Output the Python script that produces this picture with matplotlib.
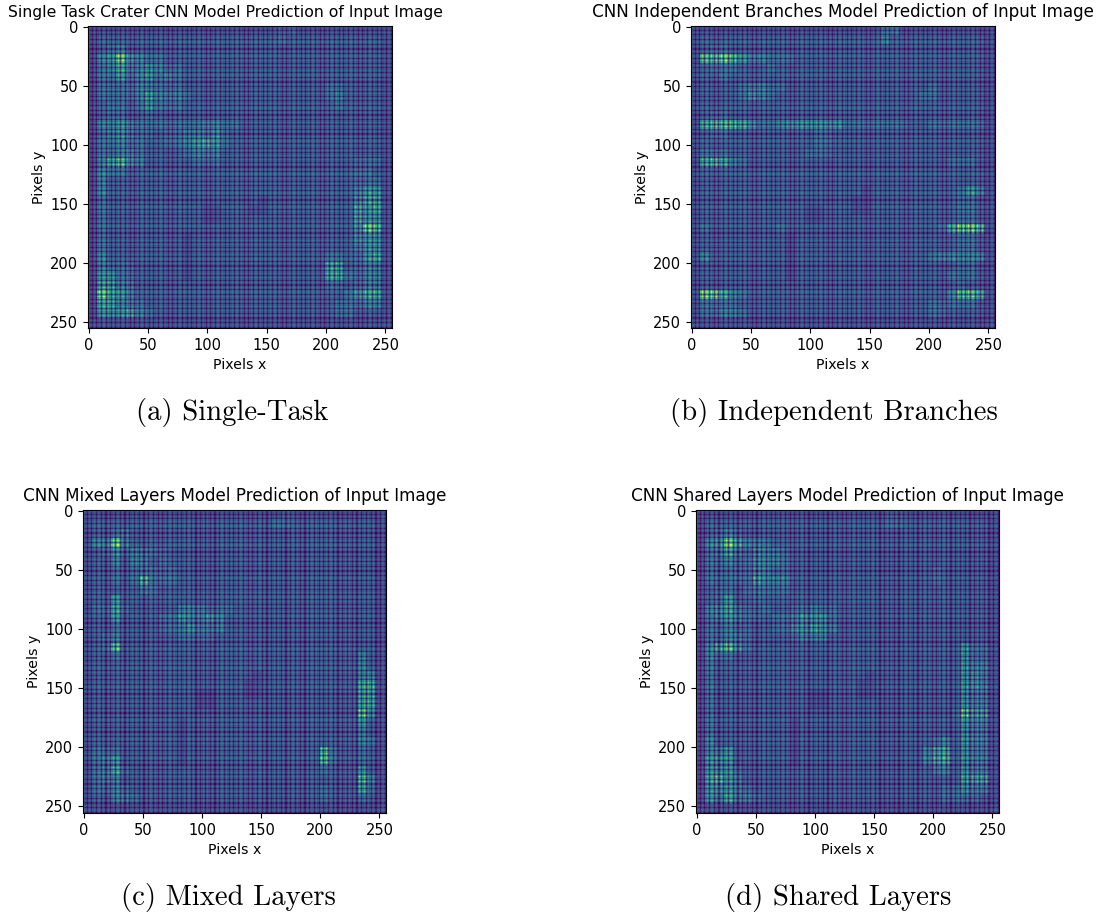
import numpy as np
import matplotlib.pyplot as plt

# brightness, one digit per 8x8 pixel cell
single_task = """
2222 2222 2222 2222 2222 3322 2222 2222
2333 3333 3333 3333 3333 4333 3333 3332
2345 3333 3333 3333 3333 3333 3333 3332
2569 6544 3333 3333 3333 3333 3333 3332
2457 5565 4433 3333 3333 3333 3333 3332
2446 4564 5433 3333 3333 3333 3333 3332
2444 4554 4433 3333 3333 3333 3443 3332
2444 4575 5543 3333 3333 3333 3453 3332
2344 3464 4433 3333 3333 3333 3343 3332
2344 3343 3333 3333 3333 3333 3333 3332
2556 5444 4444 5544 3333 3333 3333 3332
2456 5443 4455 5643 3333 3333 3333 3332
2445 4433 4456 7643 3333 3333 3333 3332
2445 5433 3345 5533 3333 3333 3333 3332
2578 6533 3334 4433 3333 3333 3333 4442
2544 3333 3333 3333 3333 3333 3333 4432
2533 3333 3333 3333 3333 3333 3333 4442
2533 3333 3333 3333 3333 3333 3333 5662
2433 3333 3333 3333 3323 3333 3333 6772
2433 3333 3333 2233 3223 3333 3333 7672
2433 3333 3333 2233 3333 3333 3333 7662
2433 3333 3333 3333 3333 3333 3333 6982
2433 3333 3323 3333 3333 3333 3333 6662
2433 3333 3323 3333 3333 3333 3333 5662
2533 3333 3323 3333 3333 3333 3443 4672
2544 4333 3323 3333 3333 3333 3773 4552
2664 4333 3323 3333 3333 3333 3774 4552
2775 5333 3333 3333 3333 3333 3443 4552
2976 5333 3333 3333 3333 3333 3334 6772
2775 5433 3333 3333 3333 3333 3344 4552
2666 7543 3333 3333 3333 3333 3344 3332
2222 2222 2222 2222 2222 2222 2222 2222
"""

independent = """
2222 2222 2222 2222 2222 4422 2222 2222
2333 3333 3333 3333 3333 5333 3333 3332
2344 3333 3333 3333 3333 3333 3333 3332
2889 8655 4443 3333 3333 3333 3333 3332
2344 4333 4333 3333 3333 3333 3333 3332
2334 3333 3333 3333 3333 3333 3333 3332
2333 3455 4433 3333 3333 3333 3433 3332
2333 3465 4333 3333 3333 3333 4433 3332
2333 3333 3333 3333 3333 3333 3333 3332
2344 3333 3333 3333 3333 3333 3333 3332
2788 8764 4566 6666 4444 4443 3444 4442
2344 3333 3333 3443 3333 3333 3333 3332
2333 3333 3333 3443 3333 3333 3333 3332
2444 3333 3333 4443 3333 3333 3333 3332
2787 5433 3333 3333 3333 3333 3334 4432
2333 3333 3333 3333 3333 3333 3333 3332
2333 3333 3333 3333 3333 3333 3333 3332
2333 3333 3333 3333 3323 3333 3333 4652
2333 3333 3333 3333 3223 3333 3333 4432
2333 3333 3333 2233 3223 3333 3333 4432
2333 3333 3333 2233 3333 3333 3333 4432
2433 3333 3433 3333 3333 3333 3347 9982
2333 3333 3323 3333 3333 3333 3333 4432
2333 3333 3323 3333 3333 3333 3333 4432
2533 3333 3323 3333 3333 3333 3455 5552
2333 3333 3323 3333 3333 3333 3333 4432
2333 3333 3323 3333 3333 3333 3334 4432
2333 3333 3333 3333 3333 3333 3333 4332
2997 5433 3333 3333 3333 3333 3335 8872
2444 4333 3333 3333 3333 3333 3444 4432
2445 5433 3333 3333 3333 3333 3443 3332
2222 2222 2222 2222 2222 2222 2222 2222
"""

mixed = """
2222 2222 2222 2222 2222 2322 2222 2222
2333 3333 3333 3333 3333 4433 3333 3332
2334 5333 3333 3333 3333 3333 3333 3332
2559 5333 3333 3333 3333 3333 3333 3332
2346 4554 4333 3333 3333 3333 3333 3332
2335 3553 4333 3333 3333 3333 3333 3332
2334 3454 4433 3333 3333 3333 3333 3332
2334 3484 4433 3333 3333 3333 3333 3332
2333 3354 3333 3333 3333 3333 3333 3332
2336 3333 3333 3333 3333 3333 3333 3332
2447 4333 3355 5444 3333 3333 3333 3332
2336 3333 4465 5653 3333 3333 3333 3332
2334 3333 4456 5553 3333 3333 3333 3332
2345 3333 3344 4433 3333 3333 3333 3332
2348 3333 3333 3333 3333 3333 3333 3332
2334 3333 3333 3333 3333 3333 3333 3532
2333 3333 3333 3333 3333 3333 3333 3532
2333 3333 3333 3333 3323 3333 3333 3552
2333 3333 3333 3333 3223 3333 3333 3772
2333 3333 3333 2233 3223 3333 3333 3772
2333 3333 3333 2233 3333 3333 3333 3772
2333 3333 3333 3333 3333 3333 3333 3962
2333 3333 3323 3333 3333 3333 3333 3632
2333 3333 3323 3333 3333 3333 3333 3532
2333 3333 3323 3333 3333 3333 3333 3542
2444 3333 3323 3333 3333 3333 3843 3432
2456 3333 3323 3333 3333 3333 3843 3432
2457 4333 3333 3333 3333 3333 3433 3632
2455 3333 3333 3333 3333 3333 3333 3852
2445 4333 3333 3333 3333 3333 3433 3742
2335 5433 3333 3333 3333 3333 3433 3432
2222 2222 2222 2222 2222 2222 2222 2222
"""

shared = """
2222 2222 2222 2222 2222 3322 2222 2222
2333 3333 3333 3333 3333 4433 3333 3332
2345 4333 3333 3333 3333 3333 3333 3332
2569 7554 3333 3333 3333 3333 3333 3332
2457 5465 5433 3333 3333 3333 3333 3332
2445 4465 5433 3333 3333 3333 3333 3332
2444 4465 4433 3333 3333 3333 3433 3332
2444 4475 5533 3333 3333 3333 3433 3332
2344 3454 4433 3333 3333 3333 3333 3332
2346 3343 3333 3333 3333 3333 3333 3332
2567 5444 3344 5443 3333 3333 3333 3332
2456 5443 4456 6643 3333 3333 3333 3332
2445 4433 4466 7653 3333 3333 3333 3332
2445 5433 3345 5533 3333 3333 3333 3332
2578 6433 3333 3333 3333 3333 3333 6442
2544 3333 3333 3333 3333 3333 3333 6442
2433 3333 3333 3333 3333 3333 3333 6552
2433 3333 3333 3333 3323 3333 3333 6652
2433 3333 3333 3333 3223 3333 3333 6652
2433 3333 3333 2233 3223 3333 3333 6552
2433 3333 3333 2233 3333 3333 3333 6552
2433 3333 3333 3333 3333 3333 3334 9772
2433 3333 3323 3333 3333 3333 3333 6552
2433 3333 3323 3333 3333 3333 3333 6552
2533 3333 3323 3333 3333 3333 3453 6552
2556 3333 3323 3333 3333 3333 5773 6552
2666 3333 3323 3333 3333 3333 5773 6552
2666 4333 3333 3333 3333 3333 3553 6552
2786 5333 3333 3333 3333 3333 3333 7772
2666 5433 3333 3333 3333 3333 3344 6552
2657 5543 3333 3333 3333 3333 3344 4432
2222 2222 2222 2222 2222 2222 2222 2222
"""

# repeating 8x8 checker texture seen in all four outputs
texture = """
5 7 5 2 5 7 5 2
7 9 7 3 7 8 7 3
5 7 5 2 5 7 5 2
2 4 2 0 2 4 2 0
5 7 5 2 5 7 5 2
7 8 7 3 7 9 7 3
5 7 5 2 5 7 5 2
2 4 2 0 2 4 2 0
"""

titles = ['Single Task Crater CNN Model Prediction of Input Image',
          'CNN Independent Branches Model Prediction of Input Image',
          'CNN Mixed Layers Model Prediction of Input Image',
          'CNN Shared Layers Model Prediction of Input Image']
captions = ['(a) Single-Task', '(b) Independent Branches', '(c) Mixed Layers', '(d) Shared Layers']
panels = [single_task, independent, mixed, shared]
ticks = [0, 50, 100, 150, 200, 250]

W, H = 1103, 915
# axes boxes in pixels: left, right, top, bottom
boxes = [(88, 392, 26, 328), (691, 995, 26, 328), (83, 386, 510, 813), (696, 999, 510, 813)]
caption_pos = [(232, 412), (834, 412), (228, 897), (838, 897)]
title_size = [11.27, 12.05, 12.05, 12.05]
title_x = [0.452, 0.5, 0.5, 0.5]


def read_grid(s):
    return np.array([[int(c) for c in line.replace(' ', '')] for line in s.strip().splitlines()], dtype=float)


tile = read_grid(texture) / 9

fig = plt.figure(figsize=(W / 100, H / 100), dpi=100)
for i in range(4):
    l, r, t, b = boxes[i]
    ax = fig.add_axes([l / W, 1 - b / H, (r - l) / W, (b - t) / H])
    level = read_grid(panels[i])
    img = np.kron(0.2 + 0.085 * level, tile)
    ax.imshow(img, cmap='viridis', vmin=0, vmax=1, aspect='auto', interpolation='nearest')
    ax.set_xticks(ticks)
    ax.set_yticks(ticks)
    ax.tick_params(labelsize=10.5)
    ax.set_xlabel('Pixels x', fontsize=10.2, labelpad=3.5)
    ax.set_ylabel('Pixels y', fontsize=10.2, labelpad=3)
    ax.set_title(titles[i], fontsize=title_size[i], pad=6.5, x=title_x[i])
    fig.text(caption_pos[i][0] / W, 1 - caption_pos[i][1] / H, captions[i], family='cmr10',
             fontsize=20.7, ha='center', va='center')

plt.savefig('out.png', dpi=100)
